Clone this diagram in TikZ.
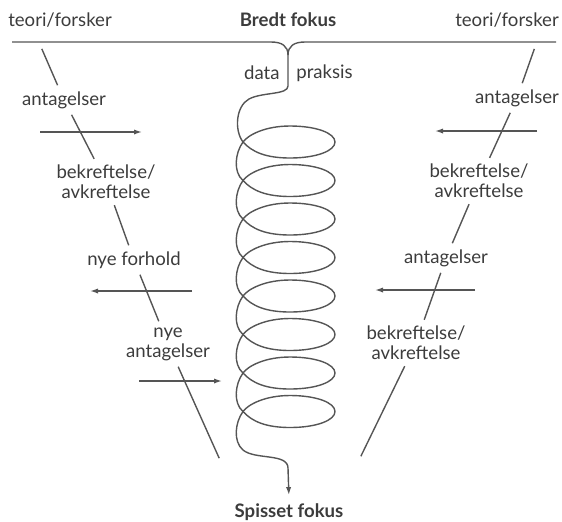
\documentclass[tikz,border=0pt]{standalone}
\usepackage{fontspec}
\setmainfont{Lato}
\usetikzlibrary{arrows.meta}

\definecolor{ink}{HTML}{555555}
\definecolor{txt}{HTML}{3C3C3C}

\begin{document}
\begin{tikzpicture}[
  x=0.5pt, y=-0.5pt,
  lbl/.style={
    text=txt,
    align=center,
    inner sep=2pt,
    font=\fontsize{9.3}{10}\selectfont
  },
  head/.style={lbl, font=\fontsize{9.3}{10}\selectfont\bfseries},
  link/.style={draw=ink, line width=0.7pt, shorten <=1pt, shorten >=1pt},
  flow/.style={draw=ink, line width=0.7pt, -{Latex[length=4pt,width=2.6pt]}},
  coil/.style={draw=ink, line width=0.7pt}
]
\useasboundingbox (0,0) rectangle (562,521);

\node[lbl] (teoriL) at (60,20) {teori/forsker};
\node[head] (bredt) at (288,20) {Bredt fokus};
\node[lbl] (teoriR) at (507,20) {teori/forsker};
\node[lbl, anchor=east] (data) at (284,73) {data};
\node[lbl, anchor=west] (praksis) at (292,73) {praksis};
\node[head] (spiss) at (289,512) {Spisset fokus};

% left column
\node[lbl] (antL) at (64,100) {antagelser};
\node[lbl] (bekL) at (106,182) {bekreftelse/\\avkreftelse};
\node[lbl] (nyeF) at (134,260) {nye forhold};
\node[lbl] (nyeA) at (168,344) {nye\\antagelser};

% right column
\node[lbl] (antR) at (517,98) {antagelser};
\node[lbl] (bekR) at (479,181) {bekreftelse/\\avkreftelse};
\node[lbl] (antR2) at (446,258) {antagelser};
\node[lbl] (bekR2) at (416,343) {bekreftelse/\\avkreftelse};

\coordinate (topL) at (12,42);
\coordinate (topR) at (556,42);
\coordinate (junc) at (288,55);
\coordinate (tickL) at (41,47);
\coordinate (tickR) at (535,47);
\coordinate (endL) at (220,460);
\coordinate (endR) at (360,458);

% top line
\draw[coil] (topL) -- (271,42) .. controls (282,42) and (288,46) .. (junc);
\draw[coil] (topR) -- (305,42) .. controls (294,42) and (288,46) .. (junc);

% coil
\draw[coil, ->, >={Latex[length=4pt,width=2.6pt]}, shorten >=2pt]
  (junc) -- (288,86) .. controls (288,95) and (262,92) .. (249,99)
  .. controls (236,106) and (234,130) .. (243,142)
  \foreach \k [evaluate=\k as \yc using 142+38.5*\k] in {0,...,7} {
    .. controls (252,\yc+10) and (266,\yc+16) .. (290,\yc+16)
    .. controls (316,\yc+16) and (335,\yc+9) .. (335,\yc)
    .. controls (335,\yc-9) and (316,\yc-16) .. (290,\yc-16)
    .. controls (265,\yc-16) and (248,\yc-7) .. (243,\yc)
    .. controls (235,\yc+11) and (233,\yc+30) .. (243,\yc+38.5)
  }
  .. controls (255,460) and (288,453) .. (288,468) -- (spiss.north);

% lines
\draw[link] (tickL) -- (antL);
\draw[link] (antL) -- (bekL);
\draw[link] (bekL) -- (nyeF);
\draw[link] (nyeF) -- (nyeA);
\draw[link] (nyeA) -- (endL);
\draw[link] (tickR) -- (antR);
\draw[link] (antR) -- (bekR);
\draw[link] (bekR) -- (antR2);
\draw[link] (antR2) -- (bekR2);
\draw[link] (bekR2) -- (endR);

% arrows
\coordinate (aL1) at (40,132);  \coordinate (bL1) at (142,132);
\coordinate (aL2) at (192,291); \coordinate (bL2) at (90,291);
\coordinate (aL3) at (139,381); \coordinate (bL3) at (222,381);
\coordinate (aR1) at (537,131); \coordinate (bR1) at (435,131);
\coordinate (aR2) at (475,290); \coordinate (bR2) at (375,290);
\draw[flow] (aL1) -- (bL1);
\draw[flow] (aL2) -- (bL2);
\draw[flow] (aL3) -- (bL3);
\draw[flow] (aR1) -- (bR1);
\draw[flow] (aR2) -- (bR2);

\end{tikzpicture}
\end{document}
